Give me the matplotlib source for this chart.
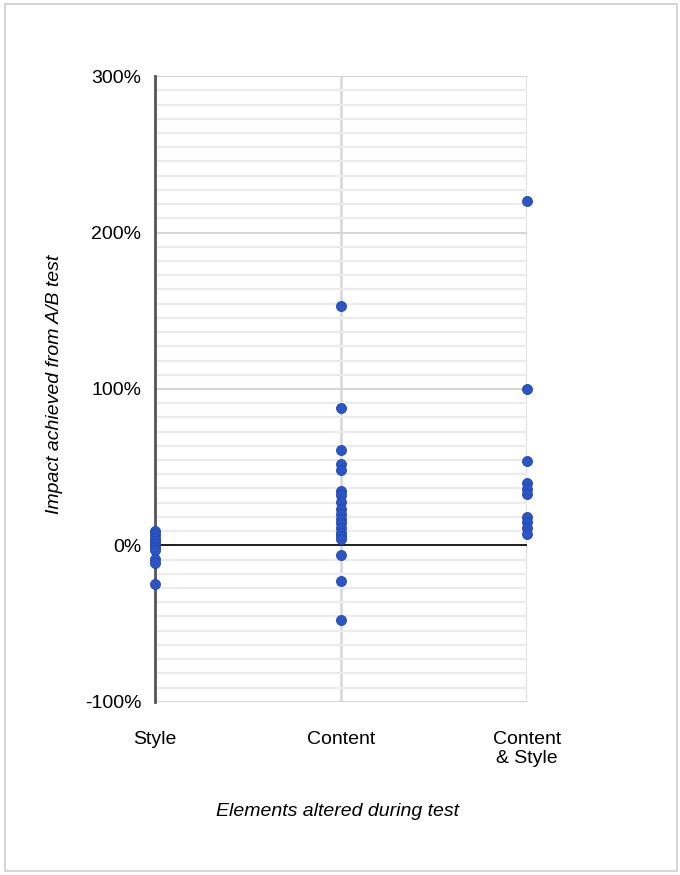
import matplotlib.pyplot as plt
from matplotlib.patches import Rectangle
from matplotlib.ticker import MultipleLocator, FuncFormatter

# impact of A/B tests by element altered (percent)
categories = ['Style', 'Content', 'Content\n& Style']
style_vals = [9, 7, 5, 3, 1, -1, -3, -9, -11, -25]
content_vals = [153, 88, 61, 52, 48, 35, 32, 28, 23, 20, 17, 14, 11, 8, 6, 4, -6, -23, -48]
both_vals = [220, 100, 54, 40, 36, 33, 18, 15, 11, 7]
yticks = [-100, 0, 100, 200, 300]

plt.rcParams['font.family'] = ['Liberation Sans', 'DejaVu Sans']

fig = plt.figure(figsize=(6.8, 8.75), dpi=100)
ax = fig.add_axes([0.228, 0.198, 0.547, 0.715])
ax.set_axisbelow(True)

# light minor grid (11 steps per 100%), slightly darker major grid
ax.yaxis.set_minor_locator(MultipleLocator(100 / 11))
ax.grid(which='minor', axis='y', color='#ececec', lw=1.6)
ax.grid(which='major', axis='y', color='#d4d4d4', lw=1.4)
ax.grid(which='major', axis='x', color='#d6d6d6', lw=1.8)
ax.axhline(0, color='#111111', lw=1.3, zorder=2)

series = [style_vals, content_vals, both_vals]
for i, vals in enumerate(series):
    ax.scatter([i] * len(vals), vals, s=52, color='#2b55c4', edgecolor='#2148b0',
               lw=0.6, zorder=3, clip_on=False)

ax.set_xlim(0, 2)
ax.set_ylim(-100, 300)
ax.set_xticks(range(len(categories)))
ax.set_xticklabels(categories, fontsize=14, linespacing=1.15)
ax.set_yticks(yticks)
ax.yaxis.set_major_formatter(FuncFormatter(lambda v, p: f'{v:.0f}%'))
ax.tick_params(axis='both', which='both', length=0, labelsize=14)
ax.tick_params(axis='x', pad=21)
ax.tick_params(axis='y', pad=10)
ax.get_xticklabels()[2].set_x(1.98)

for s in ['top', 'right', 'bottom']:
    ax.spines[s].set_visible(False)
ax.spines['left'].set_color('#555555')
ax.spines['left'].set_linewidth(2)
ax.spines['left'].set_zorder(2.5)

fig.text(0.08, 0.561, 'Impact achieved from A/B test', rotation=90, style='italic',
         fontsize=14, ha='center', va='center')
fig.text(0.496, 0.072, 'Elements altered during test', style='italic',
         fontsize=14, ha='center', va='center')

# thin frame around the whole figure
fig.patches.append(Rectangle((0.007, 0.005), 0.988, 0.991, transform=fig.transFigure,
                             fill=False, edgecolor='#cfcfcf', lw=1.2))

fig.savefig('out.png', dpi=100)
